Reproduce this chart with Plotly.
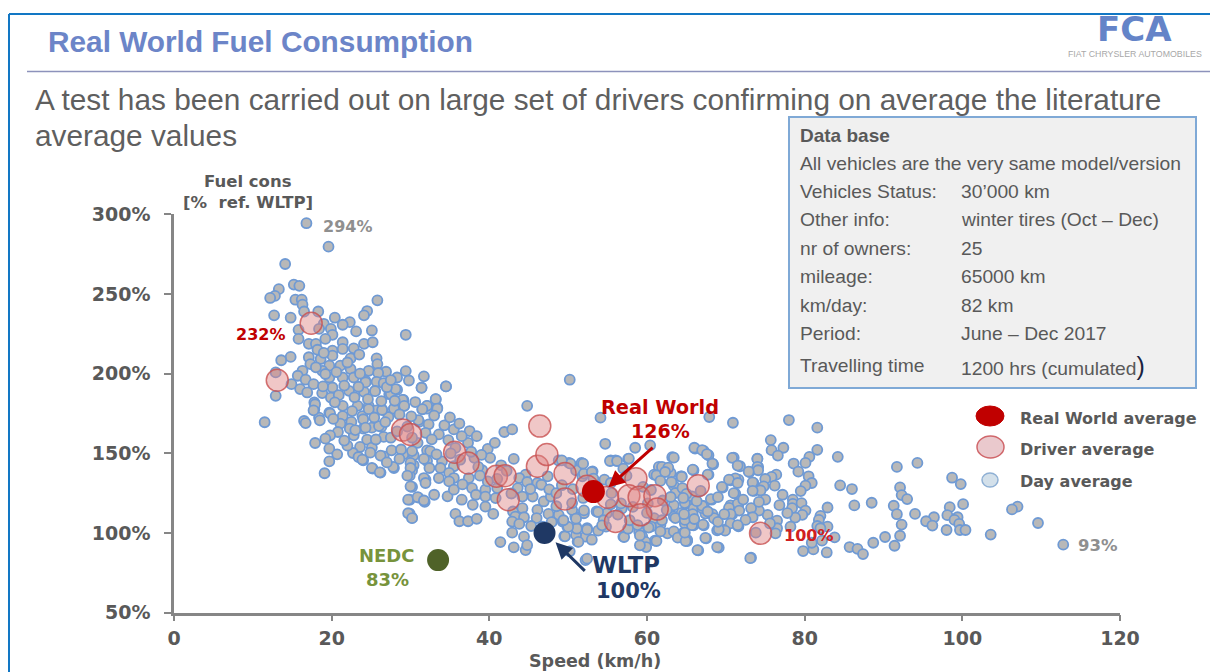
import plotly.graph_objects as go

W, H = 1210, 672

day_points = [
(16.8,294.4),(19.6,279.7),(14.1,268.8),(15.2,255.9),(15.9,255.1),(13.3,253),(12.8,248.8),(12.2,247.5),(15.4,246.4),(16.2,246.4),
(16.3,243.3),(25.8,246),(16.5,239),(18.3,239),(24.5,239.3),(24.1,236.6),(12.7,236.6),(14.8,235.1),(20.4,235.1),(22.3,232.3),
(21.4,230.7),(19,231.3),(15.8,227.5),(18.4,228.1),(19.9,228.1),(23.1,226.5),(25.1,227.1),(29.4,224.4),(15.8,221.8),(20.1,224.4),
(19.2,221.8),(17.1,218.7),(18,218.7),(21.4,219.7),(24.1,218.7),(25.2,219.7),(20.1,214.5),(21.4,215.5),(22.8,215.9),(22.4,209.6),
(14.8,210.5),(13.6,208.4),(17.1,210.3),(17.3,206),(18.6,209.2),(20.1,211.3),(25.7,209.6),(25.8,206),(21.1,205),(19.7,205),
(16.3,201.8),(12.9,200.8),(18.8,201.8),(22.4,202.9),(24.7,201.8),(26.9,201.2),(29.4,201.6),(25.9,200.4),(31.7,198.3),(28.3,197.6),
(15.7,198.7),(16.7,196.2),(17.7,193.4),(19.7,197.6),(21.4,197.6),(22.8,197.6),(24.3,195.5),(25.7,194.9),(26.9,193.4),(14.9,193.4),
(16,190.3),(16.9,188.2),(18.8,187.8),(20.1,191.3),(22.2,189.2),(24.1,188.6),(25.5,189.2),(28.3,189.9),(31.4,191.3),(34.5,192),
(12.9,186.1),(33.2,184),(29.1,183.5),(27.3,187.1),(17.8,181.9),(19.9,185),(21.4,179.8),(23.3,179.8),(24.7,179.8),(26.4,177.6),
(27.9,178),(29.2,179.8),(31.5,177.6),(33.4,178.7),(32.1,179.8),(17.8,177.6),(19.7,175.5),(18.4,172.4),(21.4,173.4),(23.9,173.4),
(16.5,170.3),(11.5,169.5),(16.7,169),(17.9,180.8),(17.7,177),(19.8,175),(18.5,170.7),(21.1,168.6),(22.5,169.7),(20.8,163.4),
(19.8,161.3),(19.2,159.2),(17.9,156.5),(22.8,161.3),(24,165.5),(25.1,166.1),(26.3,166.6),(26.6,160.3),(24.5,158.6),(23.6,154),
(25.1,153.6),(19.7,152.9),(20.7,149.4),(19.7,145),(19.1,137.5),(22.7,150.2),(23.4,147.7),(24,145.6),(26.6,148.1),(27.6,151.9),
(29.1,149.4),(30.4,148.8),(32.1,151.9),(30.4,142.5),(32.1,145.2),(25.2,140.4),(26.2,137.9),(27.9,140.8),(30.2,139.3),(29.9,136),
(31.9,133.5),(30.2,128.9),(29.9,120.9),(31,122.2),(31.8,119.5),(29.9,112.1),(30.2,109.6),(25.7,177),(27.2,172.8),(22.3,165.5),
(31.1,169.7),(32.1,178),(34.5,192),(31.4,191.1),(33.2,184),(32.1,179.8),(33.4,178),(31.5,177.7),(29,183.6),(27.5,187.3),
(25.5,189),(24.3,194.5),(26.6,194),(28.1,190.3),(29.2,179.8),(27.9,178),(26.4,177.2),(24.7,177.7),(24,171.4),(26,167.1),
(24.3,166.1),(31,170.9),(32.3,168.2),(34.3,167.6),(35.5,165),(31.9,162.9),(33.6,161.9),(27.5,159.8),(25.6,158.7),(30.9,156.6),
(28.8,152.4),(26.2,148.6),(23.9,146.1),(30.2,151.4),(32.5,151.4),(34,145),(31.7,146.5),(30,144),(32.4,140.8),(33.8,140.8),
(35.5,141.9),(34.9,137.7),(30,140.8),(29.6,136),(27.8,141.5),(25.1,140.8),(26.1,138.1),(31.7,134.5),(33.6,134.5),(35.5,134.5),
(34.9,132.4),(31.9,131.4),(30,129.3),(33,124),(34.7,123),(35.5,127.2),(29.7,120.9),(30.9,122.5),(31.7,120.4),(29.7,112.4),
(30.2,109.3),(36.5,120.9),(37.4,134.5),(37.3,156.6),(39.8,152.8),(40.7,156.6),(40.1,147.2),(38.1,147.2),(41.9,163.4),(42.9,165),
(44.8,179.8),(43.1,146.5),(39.1,139.4),(44.6,136.6),(43.8,134.5),(46.1,131.4),(39.5,127.2),(37.8,128.2),(41,128.2),(43.6,128.2),
(38.3,124),(39.5,122.9),(40.8,121.9),(45.5,122.9),(44.2,122.9),(37.9,117.7),(39.5,116.6),(35.7,112),(40.5,112),(36.2,107.4),
(37.3,107.4),(38.4,108.9),(43,113.5),(44.2,115.6),(46.1,114.5),(46.9,119.8),(47.8,122.9),(43.3,110.3),(44.4,109.9),(42.9,107.2),
(43.8,105.7),(42.9,100.2),(44.4,97.7),(41.4,94.3),(43.1,91),(44.6,89.3),(44.8,92.4),(49.3,107.2),(49.9,104),(50.9,110.3),
(52,112.4),(50.5,114.5),(48.8,111.4),(49.5,98.1),(51.2,94.6),(51,104),(52.4,103),(52.2,97.7),(51,98.8),(52.2,83),
(53.6,113.5),(53.8,101.5),(57,97.7),(54.8,104),(54.9,112.4),(59,100.9),(59.6,93.5),(59.4,97.7),(61,95.2),(61.7,105),
(62.6,99.8),(63.9,97.7),(65.1,95.6),(63.4,110.3),(64.7,111.4),(60.9,109.3),(60.5,104),(54.1,172.4),(50.2,196.2),(54.7,156),
(58.5,153.5),(60.4,155),(63.2,147.6),(55.4,145.5),(56,145.5),(57.6,146.5),(48.8,145.5),(50.1,144),(51.7,144),(51,139.4),
(53.1,138.7),(51.8,135.6),(54.6,133.5),(55.4,131.4),(47.4,135.6),(46.6,130.3),(61.5,141.5),(62.2,139.8),(63,137.7),(64.3,135.6),
(60.9,136.6),(63.4,129.7),(66.1,153),(67.2,151.5),(67.8,148.8),(63.4,147.3),(71,147.3),(74,146.7),(71.8,141.9),(68.4,143.1),
(74.1,141.5),(73,138.3),(65.9,139.4),(67.8,136.6),(64.4,135.6),(61.9,141.5),(62.7,141),(61.2,136.2),(62.3,138.3),(61.7,132.7),
(63.1,132),(70.6,133.1),(71.6,133.5),(69.6,128.5),(71.2,124.7),(73.5,131.4),(73.6,126.4),(63.6,125.1),(65,118.4),(63.4,117.4),
(68.2,120.9),(67.2,116.8),(65.9,115.3),(64.4,112.6),(63.6,109.4),(68.6,109),(67.4,112.2),(70.6,117.4),(71.6,118),(73.3,115.3),
(70.8,111.7),(73.3,110.1),(69.9,102.1),(71.6,104.2),(68.9,101.7),(67.2,104.8),(65.9,104.8),(64.8,105.9),(63.4,101),(64.6,100),
(63.9,97.1),(65.1,95),(67.5,96.7),(66.5,89.1),(69.1,90.8),(73.2,84.5),(61.2,95),(59.8,94.4),(59.9,91.2),(59.1,92.3),
(59.1,98.5),(57.1,97.5),(57.6,102.7),(61.7,101),(60.2,103.4),(61.9,108),(51.3,94.4),(53,95.8),(49.6,97.9),(52.4,102.1),
(51.1,102.7),(50,103.8),(52.4,83.9),(50.2,88.5),(51,109),(49.4,108),(52,114.2),(53.8,113.2),(56.8,115.3),(54.5,108),
(54.3,104.8),(52,137.3),(53,138.3),(53.2,134.1),(55.3,145.2),(56.2,145.2),(57.7,146.7),(57,140.4),(50.3,143.5),(51.9,143.5),
(49.2,145.6),(67.9,172.8),(70.9,169.2),(78,170.9),(81.6,166.1),(75.7,158.3),(66,153.5),(67,152),(67.6,149.5),(70.8,147.2),
(68.3,143.6),(74,146.5),(75.8,152),(77.3,153.5),(76.6,148.6),(81.6,152.2),(80.6,147.8),(80.1,144),(78.6,143.6),(84.2,147.8),
(71.5,142.3),(74,141.5),(74.1,139.4),(72.9,138.5),(65.8,139.8),(79.2,138.5),(67.7,136.6),(76.4,136.6),(75.8,135.2),(80.5,135.6),
(75,133.9),(71.2,134.3),(70.4,133.5),(71.5,131.4),(73.4,131.8),(80.9,131.4),(80.1,129.7),(76.2,129.7),(69.5,128.9),(74.8,129.3),
(74.4,126.7),(73.4,126.5),(79.5,126.3),(71,125),(84.5,129.9),(86,127.6),(91.7,141.5),(94.3,144),(98.7,134.7),(99.8,130.7),
(92.1,128.6),(92.3,123.8),(93,121.3),(88.5,119),(86.3,117.3),(91.3,117.1),(100.1,118.1),(98.4,116.2),(107,116.6),(106.3,114.8),
(91.7,111.8),(94,112),(96.4,109.9),(98.1,111.2),(99.4,109.9),(95.4,107.4),(99,108.2),(99.6,105.7),(96.2,104.7),(92.3,105.3),
(109.6,106.3),(98,101.9),(99.7,101.9),(100.4,101.9),(103.6,99),(92.1,98.3),(90.2,97.5),(88.7,93.9),(91.4,92),(85.7,91.2),
(86.7,90.1),(87.4,86.8),(83.8,97.3),(82.8,87.8),(81.1,89.7),(79.8,88.7),(73.1,84.2),(112.8,92.7),(82.9,116),(76.8,117.5),
(78.5,120.9),(78.5,118.3),(79.6,118.8),(78.4,115.6),(80.1,114.1),(79.7,111.4),(82,110.8),(78.8,109.7),(81.8,108.2),(82.9,104),
(81.6,104.4),(78.2,104),(76.5,107.8),(76.5,103),(76.3,99.8),(75.3,111.4),(74.2,114.1),(73.2,115.6),(71.5,118.3),(70.4,115.8),
(71.7,114.1),(70.6,111.8),(73.4,109.9),(72.5,108.2),(70.6,106.1),(71.5,104.9),(69.9,101.5),(69.1,102.3),(73.8,100.2),(67.4,96.9),
(68.9,91.2),(66.4,89.3),(64.9,95),(64.8,100.2),(67.1,105.3),(65.7,104.9),(64.8,108.2),(65.8,111.8),(64.7,111.8),(67,115.6),
(68.3,111.8),(68.5,109.3),(69,107),(64.8,118.8),(68.1,121.3),(65.7,123),(64.4,135.2),(64.5,128.2),(67,117.1),(67.7,113.5),
(80.9,93.9),(82.2,95.2),(82,103),
(20.9,186.5),(22.9,185.2),(24.6,184),(26.3,182.8),(28,183),(30.6,182.2),(18.9,192),(21.6,192.5),(23.4,191.8),(27,191.5),
(19.2,199.8),(23.6,200),(20.6,201),(27.5,196),(29.8,195.7),(18.2,215),(19,213),(23.5,212),(22,207),(18,204),
(20.4,182),(22.6,176.5),(25.4,172.5),(28.6,174.4),(30.1,173.2),(33,173.7),(35,172.6),(36.2,168.7),(37.5,164),(38.4,160.8),
(29.6,166.8),(28.3,163.8),(30.2,159.8),(32.7,158.8),(34.8,158.3),(36.5,160.8),(35.7,153.4),(37.7,151),(39,149),(36.3,146),
(33.3,149.4),(35.1,150),(28.6,146.5),(27,144.3),(24.9,150.4),(22,154.8),(21.6,158),(23,164.6),(20.2,171.6),(26.8,169.6),
(38.6,141.5),(41.5,142.5),(42.2,139),(41,134),(39.8,132.4),(36.6,130.5),(38.8,136),(44.8,132),(45.2,127.6),(42.8,124.8),
(47.6,127.4),(48.5,125),(49.2,130),(50.6,127.5),(51.9,122),(50.5,118.8),(48.5,116.8),(47.5,112),(46,109.4),(45.3,104.4),
(46.8,104),(47.9,106.8),(55.5,125),(56.7,118.6),(58.2,116.4),(60.1,118.6),(62,120.4),(63,122.6),(65,124.6),(66.8,126.4),
(55.4,118),(56.3,111.6),(57.8,108),(58.8,105),(60,112.6),(62.5,114.4),(66,108.8),(69.8,111.8),(72.2,121),(75,121),
(57.4,136),(59.5,129),(60.5,127),(64.6,122),(66.3,120),(69,122.5),(74.2,119.5),(77.2,124),(77.8,112.5),(75.6,106),
]
day_speed = [p[0] for p in day_points]
day_cons = [p[1] for p in day_points]

driver_speed = [17.4,13.1,29,30,35.6,37.3,40.9,42,42.4,46.1,46.4,47.3,49.6,49.6,52.4,55,56,58.6,57.7,59,61,61.3,59.2,66.5,74.4]
driver_cons = [231.6,195.9,164.6,161.9,150.7,144,135.6,136,120.9,141.9,167.1,149.2,137.3,121.3,129.3,122.5,107.2,134.1,123.4,122.5,123.4,115,111.4,129.7,99.8]

real_world_speed = [53.2]
real_world_cons = [126]
wltp_speed = [47]
wltp_cons = [100]
nedc_speed = [33.5]
nedc_cons = [83]

x_ticks = [0, 20, 40, 60, 80, 100, 120]
y_ticks = [50, 100, 150, 200, 250, 300]
y_tick_labels = ["50%", "100%", "150%", "200%", "250%", "300%"]

info_rows = [
    ("Vehicles Status:", "30’000 km", 191),
    ("Other info:", "winter tires (Oct – Dec)", 219),
    ("nr of owners:", "25", 248),
    ("mileage:", "65000 km", 276),
    ("km/day:", "82 km", 305),
    ("Period:", "June – Dec 2017", 333),
    ("Travelling time", "1200 hrs (cumulated<span style='font-size:25px;color:#1a2340'>)</span>", 366),
]

SANS = "Liberation Sans"
CHART = "DejaVu Sans"
GREY = "#595959"
RED = "#c00000"
NAVY = "#1f3864"
GREEN = "#77933c"


def px(x):
    return x / W


def py(y):
    return 1 - y / H


def label(x, y, text, size, color, bold=False, family=CHART, anchor="center"):
    if anchor == "left":
        x -= 2
    return dict(
        xref="paper", yref="paper", x=px(x), y=py(y), text=f"<b>{text}</b>" if bold else text,
        showarrow=False, xanchor=anchor, yanchor="middle",
        font=dict(family=family, size=size, color=color),
    )


fig = go.Figure()
fig.add_trace(go.Scatter(x=day_speed, y=day_cons, mode="markers", name="Day average",
                         marker=dict(size=10, color="#b8b8b8", line=dict(color="#6f9ad4", width=1.8))))
fig.add_trace(go.Scatter(x=driver_speed, y=driver_cons, mode="markers", name="Driver average",
                         marker=dict(size=22, color="rgba(222,130,130,0.45)", line=dict(color="rgba(200,80,80,0.8)", width=1.5))))
fig.add_trace(go.Scatter(x=real_world_speed, y=real_world_cons, mode="markers", name="Real World average",
                         marker=dict(size=23, color=RED)))
fig.add_trace(go.Scatter(x=wltp_speed, y=wltp_cons, mode="markers", name="WLTP",
                         marker=dict(size=22, color=NAVY)))
fig.add_trace(go.Scatter(x=nedc_speed, y=nedc_cons, mode="markers", name="NEDC",
                         marker=dict(size=22, color="#4f6228")))

shapes = [
    dict(type="line", xref="paper", yref="paper", x0=px(9), x1=px(W), y0=py(14), y1=py(14), line=dict(color="#1277c4", width=2)),
    dict(type="line", xref="paper", yref="paper", x0=px(9), x1=px(9), y0=py(14), y1=py(H), line=dict(color="#1277c4", width=2)),
    dict(type="line", xref="paper", yref="paper", x0=px(27), x1=px(W), y0=py(71.5), y1=py(71.5), line=dict(color="#8d92bb", width=1.5)),
    dict(type="rect", xref="paper", yref="paper", x0=px(789), x1=px(1196), y0=py(117), y1=py(388),
         fillcolor="#f0f0f0", line=dict(color="#7fa9d6", width=2)),
    dict(type="circle", xref="paper", yref="paper", x0=px(976), x1=px(1004), y0=py(406), y1=py(426),
         fillcolor=RED, line=dict(color=RED, width=1)),
    dict(type="circle", xref="paper", yref="paper", x0=px(977), x1=px(1004), y0=py(436), y1=py(458),
         fillcolor="#eac9cd", line=dict(color="#d0676b", width=1.5)),
    dict(type="circle", xref="paper", yref="paper", x0=px(982), x1=px(998), y0=py(473), y1=py(487),
         fillcolor="#d3e0ea", line=dict(color="#8fb0d4", width=1.5)),
]

annotations = [
    label(48, 41, "Real World Fuel Consumption", 29.8, "#6c85c8", bold=True, family=SANS, anchor="left"),
    label(35, 99, "A test has been carried out on large set of drivers confirming on average the literature", 29.8, "#5f5f5f", family=SANS, anchor="left"),
    label(35, 135, "average values", 29.8, "#5f5f5f", family=SANS, anchor="left"),
    label(1134, 29, "<b>FCA</b>", 34, "#6484c8", family=CHART),
    label(1135, 53.5, "FIAT CHRYSLER AUTOMOBILES", 8.8, "#a8a8a8", family=SANS),
    label(800, 135, "Data base", 19, GREY, bold=True, family=SANS, anchor="left"),
    label(800, 163, "All vehicles are the very same model/version", 19.25, GREY, family=SANS, anchor="left"),
    label(248, 182, "Fuel cons", 16.5, GREY, bold=True),
    label(248, 203, "[%  ref. WLTP]", 16.5, GREY, bold=True),
    label(595, 661, "Speed (km/h)", 17.5, GREY, bold=True),
    label(348, 226, "294%", 16, "#8f8f8f", bold=True),
    label(260, 334, "232%", 16, RED, bold=True),
    label(660, 408, "Real World", 19.3, RED, bold=True),
    label(660, 431, "126%", 19, RED, bold=True),
    label(808, 535, "100%", 16, "#d02020", bold=True),
    label(1098, 545, "93%", 16.5, "#8f8f8f", bold=True),
    label(387, 555, "NEDC", 18, GREEN, bold=True),
    label(388, 579, "83%", 18, GREEN, bold=True),
    label(626, 565, "WLTP", 22.7, NAVY, bold=True),
    label(628, 591, "100%", 21, NAVY, bold=True),
    label(1020, 418, "Real World average", 16, GREY, bold=True, anchor="left"),
    label(1020, 449, "Driver average", 16, GREY, bold=True, anchor="left"),
    label(1020, 481, "Day average", 16, GREY, bold=True, anchor="left"),
    dict(xref="x", yref="y", axref="x", ayref="y", x=55.1, y=128.7, ax=60.9, ay=154.4, text="",
         showarrow=True, arrowhead=2, arrowsize=1.1, arrowwidth=3, arrowcolor=RED),
    dict(xref="x", yref="y", axref="x", ayref="y", x=48.4, y=94.2, ax=52.3, ay=75.3, text="",
         showarrow=True, arrowhead=2, arrowsize=1.1, arrowwidth=3, arrowcolor=NAVY),
]
for left, right, y in info_rows:
    annotations.append(label(800, y, left, 19.25, GREY, family=SANS, anchor="left"))
    annotations.append(label(961, y, right, 19.25, GREY, family=SANS, anchor="left"))

TICKFONT = dict(family=CHART, size=19, color=GREY, weight="bold")
fig.update_layout(
    width=W, height=H, autosize=False, showlegend=False,
    margin=dict(l=0, r=0, t=0, b=0), paper_bgcolor="white", plot_bgcolor="white",
    shapes=shapes, annotations=annotations,
    xaxis=dict(domain=[px(174), px(1120)], range=[0, 120], tickvals=x_ticks, showgrid=False, zeroline=False,
               automargin=False, showline=True, linecolor="#868686", linewidth=2.5, ticks="outside", ticklen=6, tickwidth=2,
               tickcolor="#868686", tickfont=TICKFONT, ticklabelstandoff=1),
    yaxis=dict(domain=[py(612.7), py(214.3)], range=[50, 300], tickvals=y_ticks, ticktext=y_tick_labels,
               automargin=False, showgrid=False, zeroline=False, showline=True, linecolor="#868686", linewidth=2.5,
               ticks="outside", ticklen=7, tickwidth=2, tickcolor="#868686", tickfont=TICKFONT, ticklabelstandoff=10),
)

fig.write_html("out.html", post_script="document.body.style.margin='0';document.documentElement.style.overflow='hidden';",
               config={"displayModeBar": False})
